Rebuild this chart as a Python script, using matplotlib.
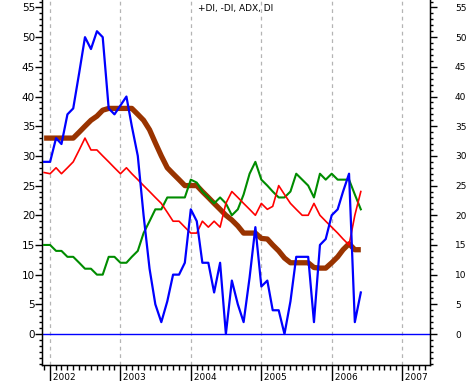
import numpy as np
import pandas as pd
import matplotlib
matplotlib.use("Agg")
import matplotlib.pyplot as plt
import matplotlib.dates as mdates
from matplotlib.ticker import MultipleLocator

# monthly points, Dec 2001 .. Jun 2006
dates = pd.date_range("2001-12-01", periods=55, freq="MS")

di = [29, 29, 33, 32, 37, 38, 44, 50, 48, 51, 50, 38, 37, 38.5, 40, 35, 30, 20,
      11, 5, 2, 5.5, 10, 10, 12, 21, 19, 12, 12, 7, 12, 0, 9, 5, 2, 9.5, 18, 8,
      9, 4, 4, 0, 5.5, 13, 13, 13, 2, 15, 16, 20, 21, 24, 27, 2, 7]
minus_di = [27.2, 27, 28, 27, 28, 29, 31, 33, 31, 31, 30, 29, 28, 27, 28, 27, 26,
            25, 24, 23, 22, 20.5, 19, 19, 18, 17, 17, 19, 18, 19, 18, 22, 24, 23,
            22, 21, 20, 22, 21, 21.5, 25, 23.5, 22, 21, 20, 20, 22, 20, 19, 18,
            17, 16, 15, 20, 24]
plus_di = [15, 15, 14, 14, 13, 13, 12, 11, 11, 10, 10, 13, 13, 12, 12, 13, 14, 17,
           19, 21, 21, 23, 23, 23, 23, 26, 25.5, 24, 23, 22, 23, 22, 20, 21, 23.5,
           27, 29, 26, 25, 24, 23, 23, 24, 27, 26, 25, 23, 27, 26, 27, 26, 26, 26,
           23.5, 21]
adx = [33, 33, 33, 33, 33, 33, 34, 35, 36, 36.7, 37.7, 38, 38, 38, 38, 38, 37, 36,
       34.4, 32.2, 30, 28, 27, 26, 25, 25, 25, 24, 23, 22, 21, 20, 19.2, 18.2, 17,
       17, 17, 16.1, 16, 15, 14, 12.8, 12, 12, 12, 12, 11.2, 11.1, 11.1, 12, 13,
       14.2, 15.2, 14.2, 14.2]

years = [2002, 2003, 2004, 2005, 2006, 2007]

fig = plt.figure(figsize=(4.7, 3.81), dpi=100)
ax = fig.add_axes([42/470, 16/381, 388/470, 365/381])

ax.plot(dates, adx, color="#993300", lw=3.8, solid_capstyle="butt", zorder=3)
ax.plot(dates, plus_di, color="#008c00", lw=1.5, zorder=4)
ax.plot(dates, minus_di, color="#ff0000", lw=1.2, zorder=5)
ax.plot(dates, di, color="#0000ff", lw=1.6, zorder=6)
ax.axhline(0, color="#0000ff", lw=1.0, zorder=2)

ax.set_ylim(-5.22, 56.26)
ax.set_xlim(pd.Timestamp("2001-11-20"), pd.Timestamp("2007-05-26"))

for y in years:
    ax.axvline(pd.Timestamp(f"{y}-01-01"), color="#b4b4b4", lw=0.9,
               linestyle=(0, (3, 3)), zorder=1)

ax.spines["top"].set_visible(False)
for s in ["left", "right", "bottom"]:
    ax.spines[s].set_linewidth(1.0)

# y axis left
ax.set_yticks(np.arange(0, 56, 5))
ax.set_yticklabels([str(v) for v in range(0, 56, 5)])
ax.yaxis.set_minor_locator(MultipleLocator(1))
ax.tick_params(axis="y", which="major", length=5, width=1, pad=0, labelsize=7.5)
ax.tick_params(axis="y", which="minor", length=2.5, width=1)

# x axis: months + years
ax.xaxis.set_major_locator(mdates.YearLocator())
ax.xaxis.set_minor_locator(mdates.MonthLocator())
ax.tick_params(axis="x", which="major", length=11.5, width=1, labelbottom=False)
ax.tick_params(axis="x", which="minor", length=3.5, width=1)
for y in years:
    ax.text(pd.Timestamp(f"{y}-01-01"), -0.034, f" {y}", fontsize=6.5,
            ha="left", va="center", transform=ax.get_xaxis_transform(),
            clip_on=False)

# right axis
ax2 = ax.twinx()
ax2.set_ylim(ax.get_ylim())
ax2.spines["top"].set_visible(False)
ax2.set_yticks(np.arange(0, 56, 5))
ax2.set_yticklabels([str(v) for v in range(0, 56, 5)])
ax2.yaxis.set_minor_locator(MultipleLocator(1))
ax2.tick_params(axis="y", which="major", length=5, width=1, pad=13, labelsize=6.5)
ax2.tick_params(axis="y", which="minor", length=2.5, width=1)

ax.text(0.5, 0.978, "+DI, -DI, ADX, DI", transform=ax.transAxes, fontsize=6.5,
        ha="center", va="center")

fig.savefig("out.png", dpi=100)
